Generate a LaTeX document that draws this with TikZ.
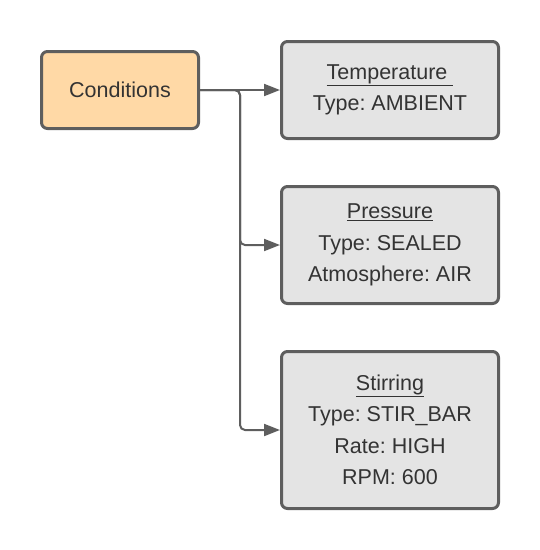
\documentclass[tikz,border=0pt]{standalone}
\usepackage{fontspec}
\setmainfont{Liberation Sans}
\usetikzlibrary{arrows.meta}
\definecolor{condfill}{HTML}{FFD9A6}
\definecolor{itemfill}{HTML}{E4E4E4}
\definecolor{edgegray}{HTML}{5E5E5E}
\definecolor{textgray}{HTML}{333333}
\tikzset{
  box/.style={draw=edgegray, line width=3pt, rounded corners=6pt,
    text=textgray, align=center,
    font=\fontsize{21.5}{31.5}\selectfont\frenchspacing},
  condbox/.style={box, fill=condfill, minimum width=157pt, minimum height=77pt},
  itembox/.style={box, fill=itemfill, minimum width=217pt},
  link/.style={draw=edgegray, line width=2pt, rounded corners=5pt,
    -{Triangle[length=16pt,width=12pt]}}
}
\begin{document}
\begin{tikzpicture}[x=1pt,y=-1pt]
\useasboundingbox (0,0) rectangle (540,550);
\node[condbox] (cond) at (120,90) {Conditions} ;
\node[itembox, minimum height=97pt] (temp) at (390,90)
  {\underline{Temperature\ }\\Type: AMBIENT} ;
\node[itembox, minimum height=117pt] (press) at (390,245)
  {\underline{Pressure}\\Type: SEALED\\Atmosphere: AIR} ;
\node[itembox, minimum height=157pt] (stir) at (390,430)
  {\underline{Stirring}\\Type: STIR\_BAR\\Rate: HIGH\\RPM: 600} ;
\coordinate (split) at (240,90) ;
\draw[link] (cond.east) -- (temp.west) ;
\draw[link] (cond.east) -- (split) |- (press.west) ;
\draw[link] (cond.east) -- (split) |- (stir.west) ;
\end{tikzpicture}
\end{document}
